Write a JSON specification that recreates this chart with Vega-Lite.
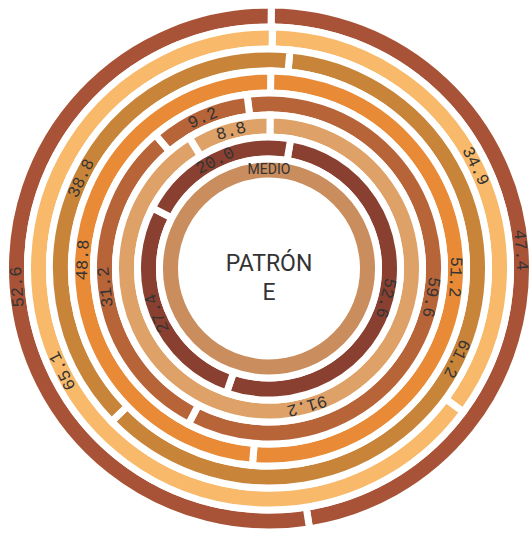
{
  "$schema": "https://vega.github.io/schema/vega-lite/v6.json",
  "width": 522,
  "height": 529,
  "padding": {"left": 8, "top": 4, "right": 0, "bottom": 0},
  "autosize": {"type": "none"},
  "background": "white",
  "config": {"view": {"stroke": null}},
  "data": {
    "values": [
      {"ring": 1, "seg": 1, "value": 47.4, "label": "47.4"},
      {"ring": 1, "seg": 2, "value": 52.6, "label": "52.6"},
      {"ring": 2, "seg": 1, "value": 34.9, "label": "34.9"},
      {"ring": 2, "seg": 2, "value": 65.1, "label": "65.1"},
      {"ring": 3, "seg": 1, "value": 61.2, "label": "61.2"},
      {"ring": 3, "seg": 2, "value": 38.8, "label": "38.8"},
      {"ring": 4, "seg": 1, "value": 51.2, "label": "51.2"},
      {"ring": 4, "seg": 2, "value": 48.8, "label": "48.8"},
      {"ring": 5, "seg": 1, "value": 59.6, "label": "59.6"},
      {"ring": 5, "seg": 2, "value": 31.2, "label": "31.2"},
      {"ring": 5, "seg": 3, "value": 9.2, "label": "9.2"},
      {"ring": 6, "seg": 1, "value": 91.2, "label": "91.2"},
      {"ring": 6, "seg": 2, "value": 8.8, "label": "8.8"},
      {"ring": 7, "seg": 1, "value": 52.6, "label": "52.6"},
      {"ring": 7, "seg": 2, "value": 27.4, "label": "27.4"},
      {"ring": 7, "seg": 3, "value": 20.0, "label": "20.0"},
      {"ring": 8, "seg": 1, "value": 100, "label": "MEDIO"}
    ]
  },
  "resolve": {"scale": {"theta": "independent", "angle": "independent"}},
  "layer": [
    {
      "transform": [{"filter": "datum.ring == 1"}, {"stack": "value", "groupby": ["ring"], "sort": [{"field": "seg"}], "as": ["v0", "v1"]}, {"calculate": "(datum.v0 + datum.v1) / 2", "as": "mid"}],
      "layer": [
        {"mark": {"type": "arc", "radius": 263.5, "radius2": 241.5, "stroke": "white", "strokeWidth": 7},
         "encoding": {"theta": {"field": "v0", "type": "quantitative", "scale": {"domain": [0, 100], "range": [0.00873, 6.29191]}}, "theta2": {"field": "v1"},
           "color": {"field": "ring", "type": "nominal", "legend": null, "scale": {"domain": [1, 2, 3, 4, 5, 6, 7, 8], "range": ["#A85338", "#F8BA6A", "#C8853A", "#E88A36", "#B86439", "#DEA268", "#8A4030", "#CA8E5E"]}}}},
        {"mark": {"type": "text", "radius": 252.5, "font": "Liberation Mono", "fontSize": 17, "color": "#333333", "align": "center", "baseline": "middle"},
         "encoding": {"theta": {"field": "mid", "type": "quantitative", "scale": {"domain": [0, 100], "range": [0.00873, 6.29191]}}, "angle": {"field": "mid", "type": "quantitative", "scale": {"domain": [0, 100], "range": [0.5, 360.5]}}, "text": {"field": "label"}}}
      ]
    },
    {
      "transform": [{"filter": "datum.ring == 2"}, {"stack": "value", "groupby": ["ring"], "sort": [{"field": "seg"}], "as": ["v0", "v1"]}, {"calculate": "(datum.v0 + datum.v1) / 2", "as": "mid"}],
      "layer": [
        {"mark": {"type": "arc", "radius": 241.5, "radius2": 219.5, "stroke": "white", "strokeWidth": 7},
         "encoding": {"theta": {"field": "v0", "type": "quantitative", "scale": {"domain": [0, 100], "range": [0.01396, 6.29715]}}, "theta2": {"field": "v1"},
           "color": {"field": "ring", "type": "nominal", "legend": null, "scale": {"domain": [1, 2, 3, 4, 5, 6, 7, 8], "range": ["#A85338", "#F8BA6A", "#C8853A", "#E88A36", "#B86439", "#DEA268", "#8A4030", "#CA8E5E"]}}}},
        {"mark": {"type": "text", "radius": 230.5, "font": "Liberation Mono", "fontSize": 17, "color": "#333333", "align": "center", "baseline": "middle"},
         "encoding": {"theta": {"field": "mid", "type": "quantitative", "scale": {"domain": [0, 100], "range": [0.01396, 6.29715]}}, "angle": {"field": "mid", "type": "quantitative", "scale": {"domain": [0, 100], "range": [0.8, 360.8]}}, "text": {"field": "label"}}}
      ]
    },
    {
      "transform": [{"filter": "datum.ring == 3"}, {"stack": "value", "groupby": ["ring"], "sort": [{"field": "seg"}], "as": ["v0", "v1"]}, {"calculate": "(datum.v0 + datum.v1) / 2", "as": "mid"}],
      "layer": [
        {"mark": {"type": "arc", "radius": 219.5, "radius2": 197.5, "stroke": "white", "strokeWidth": 7},
         "encoding": {"theta": {"field": "v0", "type": "quantitative", "scale": {"domain": [0, 100], "range": [0.09599, 6.37918]}}, "theta2": {"field": "v1"},
           "color": {"field": "ring", "type": "nominal", "legend": null, "scale": {"domain": [1, 2, 3, 4, 5, 6, 7, 8], "range": ["#A85338", "#F8BA6A", "#C8853A", "#E88A36", "#B86439", "#DEA268", "#8A4030", "#CA8E5E"]}}}},
        {"mark": {"type": "text", "radius": 208.5, "font": "Liberation Mono", "fontSize": 17, "color": "#333333", "align": "center", "baseline": "middle"},
         "encoding": {"theta": {"field": "mid", "type": "quantitative", "scale": {"domain": [0, 100], "range": [0.09599, 6.37918]}}, "angle": {"field": "mid", "type": "quantitative", "scale": {"domain": [0, 100], "range": [5.5, 365.5]}}, "text": {"field": "label"}}}
      ]
    },
    {
      "transform": [{"filter": "datum.ring == 4"}, {"stack": "value", "groupby": ["ring"], "sort": [{"field": "seg"}], "as": ["v0", "v1"]}, {"calculate": "(datum.v0 + datum.v1) / 2", "as": "mid"}],
      "layer": [
        {"mark": {"type": "arc", "radius": 197.5, "radius2": 175.5, "stroke": "white", "strokeWidth": 7},
         "encoding": {"theta": {"field": "v0", "type": "quantitative", "scale": {"domain": [0, 100], "range": [0.00873, 6.29191]}}, "theta2": {"field": "v1"},
           "color": {"field": "ring", "type": "nominal", "legend": null, "scale": {"domain": [1, 2, 3, 4, 5, 6, 7, 8], "range": ["#A85338", "#F8BA6A", "#C8853A", "#E88A36", "#B86439", "#DEA268", "#8A4030", "#CA8E5E"]}}}},
        {"mark": {"type": "text", "radius": 186.5, "font": "Liberation Mono", "fontSize": 17, "color": "#333333", "align": "center", "baseline": "middle"},
         "encoding": {"theta": {"field": "mid", "type": "quantitative", "scale": {"domain": [0, 100], "range": [0.00873, 6.29191]}}, "angle": {"field": "mid", "type": "quantitative", "scale": {"domain": [0, 100], "range": [0.5, 360.5]}}, "text": {"field": "label"}}}
      ]
    },
    {
      "transform": [{"filter": "datum.ring == 5"}, {"stack": "value", "groupby": ["ring"], "sort": [{"field": "seg"}], "as": ["v0", "v1"]}, {"calculate": "(datum.v0 + datum.v1) / 2", "as": "mid"}],
      "layer": [
        {"mark": {"type": "arc", "radius": 175.5, "radius2": 153.5, "stroke": "white", "strokeWidth": 7},
         "encoding": {"theta": {"field": "v0", "type": "quantitative", "scale": {"domain": [0, 100], "range": [-0.12566, 6.15753]}}, "theta2": {"field": "v1"},
           "color": {"field": "ring", "type": "nominal", "legend": null, "scale": {"domain": [1, 2, 3, 4, 5, 6, 7, 8], "range": ["#A85338", "#F8BA6A", "#C8853A", "#E88A36", "#B86439", "#DEA268", "#8A4030", "#CA8E5E"]}}}},
        {"mark": {"type": "text", "radius": 164.5, "font": "Liberation Mono", "fontSize": 17, "color": "#333333", "align": "center", "baseline": "middle"},
         "encoding": {"theta": {"field": "mid", "type": "quantitative", "scale": {"domain": [0, 100], "range": [-0.12566, 6.15753]}}, "angle": {"field": "mid", "type": "quantitative", "scale": {"domain": [0, 100], "range": [-7.2, 352.8]}}, "text": {"field": "label"}}}
      ]
    },
    {
      "transform": [{"filter": "datum.ring == 6"}, {"stack": "value", "groupby": ["ring"], "sort": [{"field": "seg"}], "as": ["v0", "v1"]}, {"calculate": "(datum.v0 + datum.v1) / 2", "as": "mid"}],
      "layer": [
        {"mark": {"type": "arc", "radius": 153.5, "radius2": 131.5, "stroke": "white", "strokeWidth": 7},
         "encoding": {"theta": {"field": "v0", "type": "quantitative", "scale": {"domain": [0, 100], "range": [0.00698, 6.29017]}}, "theta2": {"field": "v1"},
           "color": {"field": "ring", "type": "nominal", "legend": null, "scale": {"domain": [1, 2, 3, 4, 5, 6, 7, 8], "range": ["#A85338", "#F8BA6A", "#C8853A", "#E88A36", "#B86439", "#DEA268", "#8A4030", "#CA8E5E"]}}}},
        {"mark": {"type": "text", "radius": 142.5, "font": "Liberation Mono", "fontSize": 17, "color": "#333333", "align": "center", "baseline": "middle"},
         "encoding": {"theta": {"field": "mid", "type": "quantitative", "scale": {"domain": [0, 100], "range": [0.00698, 6.29017]}}, "angle": {"field": "mid", "type": "quantitative", "scale": {"domain": [0, 100], "range": [0.4, 360.4]}}, "text": {"field": "label"}}}
      ]
    },
    {
      "transform": [{"filter": "datum.ring == 7"}, {"stack": "value", "groupby": ["ring"], "sort": [{"field": "seg"}], "as": ["v0", "v1"]}, {"calculate": "(datum.v0 + datum.v1) / 2", "as": "mid"}],
      "layer": [
        {"mark": {"type": "arc", "radius": 131.5, "radius2": 109.5, "stroke": "white", "strokeWidth": 7},
         "encoding": {"theta": {"field": "v0", "type": "quantitative", "scale": {"domain": [0, 100], "range": [0.16581, 6.44899]}}, "theta2": {"field": "v1"},
           "color": {"field": "ring", "type": "nominal", "legend": null, "scale": {"domain": [1, 2, 3, 4, 5, 6, 7, 8], "range": ["#A85338", "#F8BA6A", "#C8853A", "#E88A36", "#B86439", "#DEA268", "#8A4030", "#CA8E5E"]}}}},
        {"mark": {"type": "text", "radius": 120.5, "font": "Liberation Mono", "fontSize": 17, "color": "#333333", "align": "center", "baseline": "middle"},
         "encoding": {"theta": {"field": "mid", "type": "quantitative", "scale": {"domain": [0, 100], "range": [0.16581, 6.44899]}}, "angle": {"field": "mid", "type": "quantitative", "scale": {"domain": [0, 100], "range": [9.5, 369.5]}}, "text": {"field": "label"}}}
      ]
    },
    {
      "transform": [{"filter": "datum.ring == 8"}, {"stack": "value", "groupby": ["ring"], "sort": [{"field": "seg"}], "as": ["v0", "v1"]}, {"calculate": "(datum.v0 + datum.v1) / 2", "as": "mid"}],
      "layer": [
        {"mark": {"type": "arc", "radius": 109.5, "radius2": 87.5, "stroke": "white", "strokeWidth": 7},
         "encoding": {"theta": {"field": "v0", "type": "quantitative", "scale": {"domain": [0, 100], "range": [3.14159, 9.42478]}}, "theta2": {"field": "v1"},
           "color": {"field": "ring", "type": "nominal", "legend": null, "scale": {"domain": [1, 2, 3, 4, 5, 6, 7, 8], "range": ["#A85338", "#F8BA6A", "#C8853A", "#E88A36", "#B86439", "#DEA268", "#8A4030", "#CA8E5E"]}}}},
        {"mark": {"type": "text", "radius": 98.5, "font": "Roboto", "fontSize": 14, "color": "#333333", "align": "center", "baseline": "middle"},
         "encoding": {"theta": {"field": "mid", "type": "quantitative", "scale": {"domain": [0, 100], "range": [3.14159, 9.42478]}}, "angle": {"field": "mid", "type": "quantitative", "scale": {"domain": [0, 100], "range": [180, 540]}}, "text": {"field": "label"}}}
      ]
    },
    {
      "data": {"values": [{"line1": "PATRÓN", "line2": "E"}]},
      "mark": {"type": "text", "text": ["PATRÓN", "E"], "font": "Roboto", "fontSize": 23, "lineHeight": 29, "dy": -5, "color": "#333333", "align": "center", "baseline": "middle"},
      "encoding": {}
    }
  ]
}
